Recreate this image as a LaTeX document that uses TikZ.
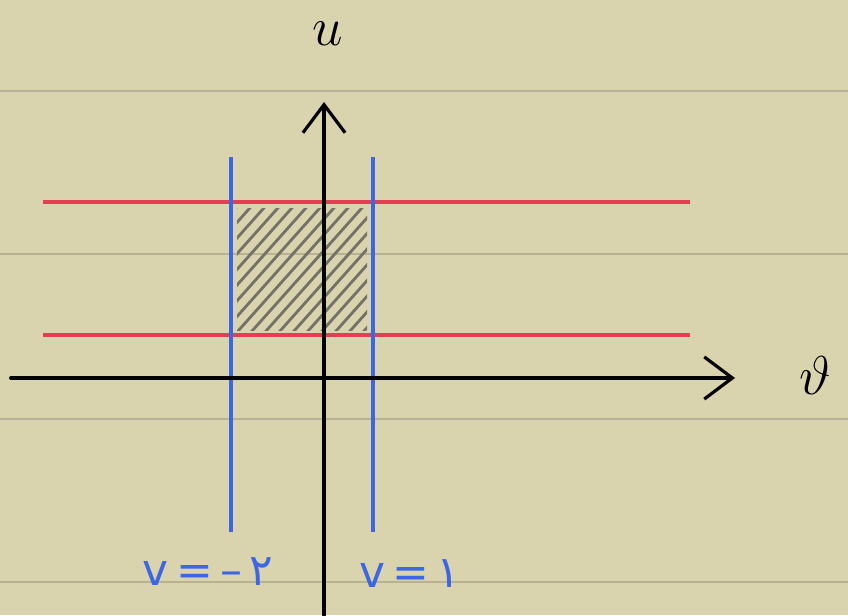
\documentclass[tikz,border=0pt]{standalone}
\usepackage{fontspec}
\newfontfamily\labelfont{DejaVu Sans}
\usetikzlibrary{arrows.meta}
\definecolor{paper}{RGB}{217,211,174}
\definecolor{ruling}{RGB}{184,178,146}
\definecolor{redln}{RGB}{228,62,84}
\definecolor{blueln}{RGB}{60,102,228}
\definecolor{hatchgray}{RGB}{116,114,104}

\begin{document}
\begin{tikzpicture}[x=0.02cm, y=-0.02cm,
    axis/.style={line width=2.2pt, black, line cap=round,
                 -{Straight Barb[length=16pt, width=24pt, line width=1.8pt]}},
    band/.style={line width=2.3pt, redln},
    strip/.style={line width=2.1pt, blueln},
    hatchln/.style={line width=1.6pt, hatchgray, line cap=round},
    axlbl/.style={font=\huge, scale=1.5, transform shape, inner sep=0pt},
    lbl/.style={font=\labelfont\fontsize{25}{27}\selectfont, text=blueln, inner sep=0pt}]

    % paper
    \fill[paper] (0,0) rectangle (848,615);
    \useasboundingbox (0,0) rectangle (848,615);
    \foreach \y in {91,254,419,582}
      \draw[ruling, line width=1.1pt] (0,\y) -- (848,\y);

    % shaded region
    \begin{scope}
      \clip (237,208) rectangle (367,330);
      \foreach \x in {90,104,...,380}
        \draw[hatchln] (\x,340) -- ++(125,-140);
    \end{scope}

    % u = const lines
    \draw[band] (43,202) -- (690,202);
    \draw[band] (43,335) -- (690,335);

    % v = const lines
    \draw[strip] (231,157) -- (231,532);
    \draw[strip] (373,157) -- (373,532);

    % axes
    \coordinate (hstart) at (11,378);
    \coordinate (hend)   at (735,378);
    \coordinate (vstart) at (324,615);
    \coordinate (vend)   at (324,102);
    \draw[axis] (hstart) -- (hend);
    \draw[axis] (vstart) -- (vend);

    \node[axlbl] (ulabel) at (328,34) {$u$};
    \node[axlbl] (vlabel) at (815,376) {$\vartheta$};

    \node[lbl] (negv) at (208,572) {v\,=\,–\,۲};
    \node[lbl] (posv) at (410,574) {v\,=\,۱};

\end{tikzpicture}
\end{document}
